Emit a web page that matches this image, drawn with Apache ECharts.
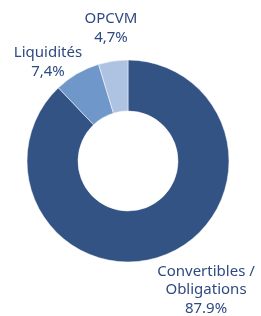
<!DOCTYPE html>
<html>
<head>
<meta charset="utf-8">
<script src="https://cdn.jsdelivr.net/npm/echarts@6/dist/echarts.min.js"></script>
<style>
  html, body { margin: 0; padding: 0; background: #fff; }
  #chart { width: 261px; height: 316px; }
</style>
</head>
<body>
<div id="chart"></div>
<script>
// données
const categories = ['Convertibles /\nObligations', 'Liquidités', 'OPCVM']
const values = [87.9, 7.4, 4.7]
const valueLabels = ['87.9%', '7,4%', '4,7%']
const colors = ['#325384', '#7097c9', '#aec3e2']

// position des étiquettes (centre du bloc de texte)
const labelPos = [
  [206, 290],
  [48, 62],
  [111, 28],
]

const chart = echarts.init(document.getElementById('chart'))

chart.setOption({
  animation: false,
  series: [
    {
      type: 'pie',
      center: [128, 161],
      radius: [50, 101],
      startAngle: 90,
      clockwise: true,
      avoidLabelOverlap: false,
      minShowLabelAngle: 0,
      itemStyle: {
        borderColor: '#fff',
        borderWidth: 0.5,
      },
      label: {
        show: true,
        position: 'outside',
        color: '#2e4a82',
        fontFamily: 'Noto Sans',
        fontSize: 15,
        lineHeight: 18.5,
        align: 'center',
        overflow: 'none',
        formatter: (p) => `${p.name}\n${valueLabels[p.dataIndex]}`,
      },
      labelLine: { show: false },
      labelLayout: (params) => ({
        x: labelPos[params.dataIndex][0],
        y: labelPos[params.dataIndex][1],
        align: 'center',
        verticalAlign: 'middle',
        hideOverlap: false,
      }),
      data: categories.map((name, i) => ({
        name,
        value: values[i],
        itemStyle: { color: colors[i] },
      })),
    },
  ],
})
</script>
</body>
</html>
